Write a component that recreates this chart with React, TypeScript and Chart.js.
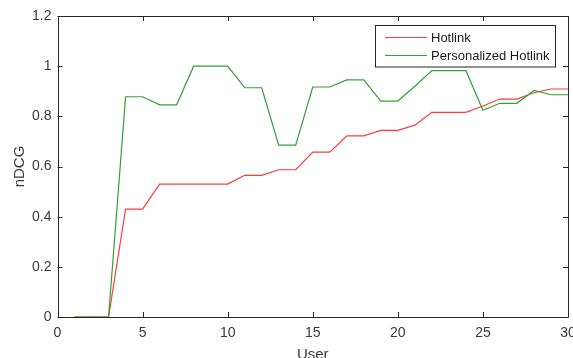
import React, { useEffect, useRef } from 'react';
import { Chart, registerables } from 'chart.js';

Chart.register(...registerables);

const users = [1, 2, 3, 4, 5, 6, 7, 8, 9, 10, 11, 12, 13, 14, 15, 16, 17, 18, 19, 20, 21, 22, 23, 24, 25, 26, 27, 28, 29, 30];
const hotlink = [0, 0, 0, 0.43, 0.43, 0.53, 0.53, 0.53, 0.53, 0.53, 0.565, 0.565, 0.587, 0.587, 0.657, 0.657, 0.722, 0.722, 0.744, 0.744, 0.765, 0.816, 0.816, 0.816, 0.841, 0.869, 0.869, 0.894, 0.909, 0.909];
const personalized = [0, 0, 0, 0.878, 0.878, 0.846, 0.846, 1.0, 1.0, 1.0, 0.914, 0.914, 0.685, 0.685, 0.917, 0.917, 0.945, 0.945, 0.861, 0.861, 0.92, 0.982, 0.982, 0.982, 0.824, 0.852, 0.852, 0.903, 0.886, 0.886];
const seriesNames = ['Hotlink', 'Personalized Hotlink'];
const seriesColors = ['#ff3a3a', '#33a033'];
const xTickValues = [0, 5, 10, 15, 20, 25, 30];
const yTickValues = [0, 0.2, 0.4, 0.6, 0.8, 1, 1.2];
const yTickLabels = ['0', '0.2', '0.4', '0.6', '0.8', '1', '1.2'];
const xTitle = 'User';
const yTitle = 'nDCG';

const FONT = "'Liberation Sans', Arial, Helvetica, sans-serif";
const AXIS = '#262626';
const TEXT = '#3a3a3a';

const boxPlugin = {
  id: 'matlabBox',
  afterDatasetsDraw(chart: any) {
    const { ctx, chartArea } = chart;
    const { left, right, top, bottom } = chartArea;
    const xs = chart.scales.x;
    const ys = chart.scales.y;
    ctx.save();
    ctx.strokeStyle = AXIS;
    ctx.lineWidth = 1;
    ctx.beginPath();
    ctx.rect(Math.round(left) + 0.5, Math.round(top) + 0.5, Math.round(right) - Math.round(left), Math.round(bottom) - Math.round(top));
    ctx.stroke();
    const tl = 5;
    ctx.beginPath();
    xTickValues.forEach((v) => {
      const px = Math.round(xs.getPixelForValue(v)) + 0.5;
      ctx.moveTo(px, bottom);
      ctx.lineTo(px, bottom - tl);
      ctx.moveTo(px, top);
      ctx.lineTo(px, top + tl);
    });
    yTickValues.forEach((v) => {
      const py = Math.round(ys.getPixelForValue(v)) + 0.5;
      ctx.moveTo(left, py);
      ctx.lineTo(left + tl, py);
      ctx.moveTo(right, py);
      ctx.lineTo(right - tl, py);
    });
    ctx.stroke();

    // legend box
    const bx = 375.5, by = 25.5, bw = 180, bh = 41.5;
    ctx.fillStyle = '#ffffff';
    ctx.fillRect(bx, by, bw, bh);
    ctx.strokeStyle = AXIS;
    ctx.strokeRect(bx, by, bw, bh);
    const rows = [37.5, 55.5];
    ctx.font = `13px ${FONT}`;
    ctx.textBaseline = 'middle';
    ctx.textAlign = 'left';
    ctx.lineWidth = 1.2;
    seriesNames.forEach((name, i) => {
      ctx.strokeStyle = seriesColors[i];
      ctx.beginPath();
      ctx.moveTo(385, rows[i]);
      ctx.lineTo(427, rows[i]);
      ctx.stroke();
      ctx.fillStyle = '#1a1a1a';
      ctx.fillText(name, 431, rows[i] + 0.5);
    });
    ctx.restore();
  },
};

export default function App() {
  const ref = useRef<HTMLCanvasElement>(null);
  useEffect(() => {
    if (!ref.current) return;
    const chart = new Chart(ref.current, {
      type: 'line',
      data: {
        labels: users,
        datasets: [
          {
            label: seriesNames[0],
            data: users.map((u, i) => ({ x: u, y: hotlink[i] })),
            borderColor: seriesColors[0],
            backgroundColor: seriesColors[0],
            borderWidth: 1.2,
            pointRadius: 0,
            tension: 0,
            order: 1,
          },
          {
            label: seriesNames[1],
            data: users.map((u, i) => ({ x: u, y: personalized[i] })),
            borderColor: seriesColors[1],
            backgroundColor: seriesColors[1],
            borderWidth: 1.2,
            pointRadius: 0,
            tension: 0,
            order: 0,
          },
        ],
      },
      options: {
        animation: false,
        responsive: false,
        devicePixelRatio: 1,
        layout: { padding: { left: 0, top: 16, right: 5, bottom: 0 } },
        plugins: { legend: { display: false }, tooltip: { enabled: false } },
        scales: {
          x: {
            type: 'linear',
            min: 0,
            max: 30,
            afterFit: (s: any) => { s.height = 41; s.paddingRight = 0; s.paddingLeft = 0; },
            afterBuildTicks: (s: any) => { s.ticks = xTickValues.map((v) => ({ value: v })); },
            grid: { display: false, drawTicks: false },
            border: { display: false },
            ticks: { padding: 8, color: TEXT, font: { family: FONT, size: 14 }, maxRotation: 0, callback: (v: any) => String(v) },
            title: { display: true, text: xTitle, color: TEXT, font: { family: FONT, size: 15, lineHeight: 1 }, padding: { top: 0, bottom: -4 } },
          },
          y: {
            type: 'linear',
            min: 0,
            max: 1.2,
            afterFit: (s: any) => { s.width = 57.5; s.paddingTop = 0; s.paddingBottom = 0; },
            afterBuildTicks: (s: any) => { s.ticks = yTickValues.map((v) => ({ value: v })); },
            grid: { display: false, drawTicks: false },
            border: { display: false },
            ticks: {
              padding: 6,
              color: TEXT,
              font: { family: FONT, size: 14 },
              callback: (v: any) => {
                const idx = yTickValues.findIndex((t) => Math.abs(t - v) < 1e-6);
                return idx >= 0 ? yTickLabels[idx] : '';
              },
            },
            title: { display: true, text: yTitle, color: TEXT, font: { family: FONT, size: 15, lineHeight: 1 }, padding: { top: 12, bottom: 0 } },
          },
        },
      },
      plugins: [boxPlugin],
    });
    return () => chart.destroy();
  }, []);
  return (
    <div style={{ position: 'absolute', left: 0, top: 0, width: 573, height: 358, background: '#fff' }}>
      <canvas ref={ref} width={573} height={358} style={{ display: 'block' }} />
    </div>
  );
}
